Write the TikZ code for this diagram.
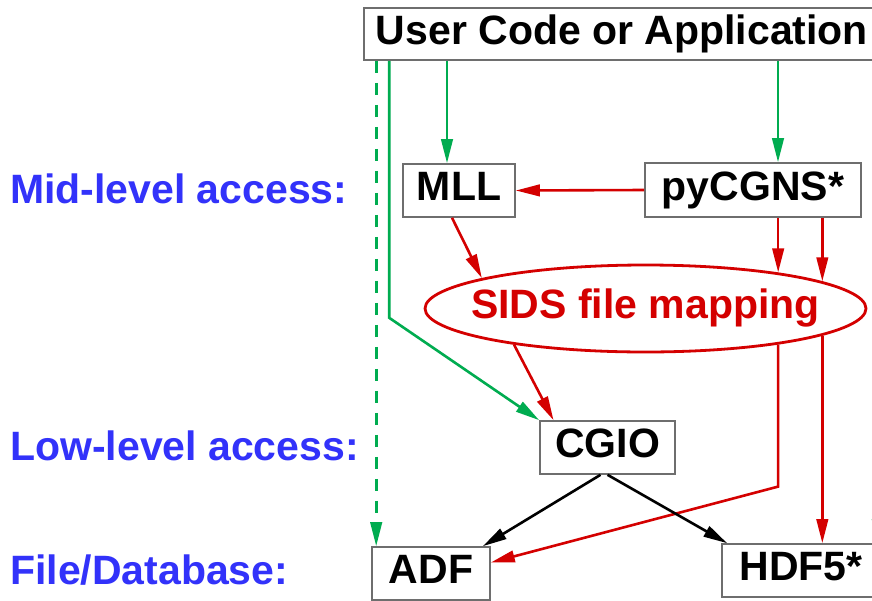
\documentclass[tikz,border=0pt]{standalone}
\usepackage{fontspec}
\setmainfont{Liberation Sans}
\usetikzlibrary{arrows.meta,shapes.geometric,calc}
\definecolor{cgreen}{RGB}{0,172,80}
\definecolor{cred}{RGB}{212,0,0}
\definecolor{cblue}{RGB}{50,50,250}
\definecolor{cgray}{RGB}{110,110,110}
\begin{document}
\begin{tikzpicture}[x=1pt,y=-1pt,
  big/.style={font=\fontsize{41}{49}\selectfont\bfseries},
  box/.style={big, draw=cgray, line width=1.6pt, fill=white, rectangle, inner sep=0pt,
    text height=29.5pt, text depth=8.6pt},
  lab/.style={big, text=cblue, anchor=base west, inner sep=0pt},
  tip/.style={-{Triangle[length=24pt,width=11.5pt]}},
  garrow/.style={tip, draw=cgreen, line width=2.6pt},
  rarrow/.style={tip, draw=cred, line width=2.6pt},
  barrow/.style={tip, draw=black, line width=2.6pt}
]
\useasboundingbox (0,0) rectangle (872,600);
\clip (0,0) rectangle (872,600);
\fill[white] (0,0) rectangle (872,600);

% nodes
\node[box, minimum width=516pt, minimum height=52pt] (user) at (622,34) {User Code or Application};
\node[box, minimum width=112pt, minimum height=53pt] (mll) at (459,190.5) {MLL};
\node[box, minimum width=216pt, minimum height=54pt] (py) at (753,190) {pyCGNS*};
\node[big, ellipse, draw=cred, line width=2.8pt, text=cred, fill=white, inner sep=0pt,
  text height=29.5pt, text depth=8.6pt,
  minimum width=441pt, minimum height=87pt] (sids) at (645.5,308.5) {\makebox[0pt]{SIDS file mapping}};
\node[box, minimum width=135pt, minimum height=53pt] (cgio) at (607.5,447.5) {CGIO};
\node[box, minimum width=118pt, minimum height=53pt] (adf) at (431,573.5) {ADF};
\node[box, minimum width=158pt, minimum height=53pt] (hdf) at (801,570.5) {HDF5*};

% points on the ellipse border
\coordinate (eA) at ($(sids.center)+({222*cos(137.5)},{-45*sin(137.5)})$);
\coordinate (eB) at ($(sids.center)+({222*cos(53.3)},{-45*sin(53.3)})$);
\coordinate (eC) at ($(sids.center)+({222*cos(37.2)},{-45*sin(37.2)})$);
\coordinate (eD) at ($(sids.center)+({222*cos(233.7)},{-45*sin(233.7)})$);
\coordinate (eE) at ($(sids.center)+({222*cos(-53.3)},{-45*sin(-53.3)})$);
\coordinate (eF) at ($(sids.center)+({222*cos(-37.2)},{-45*sin(-37.2)})$);

% labels
\node[lab] (l1) at (10,203) {Mid-level access:};
\node[lab] (l2) at (10,460) {Low-level access:};
\node[lab] (l3) at (10,584) {File/Database:};

% green connectors
\draw[garrow, dash pattern=on 12pt off 10pt]
  ([xshift=13]user.south west) -- ([xshift=5]adf.north west);
\draw[garrow] ([xshift=26]user.south west) -- ++(0,257) -- (cgio.north west);
\draw[garrow] ([xshift=-12]mll.north |- user.south) -- ([xshift=-12]mll.north);
\draw[garrow] ([xshift=25]py.north |- user.south) -- ([xshift=25]py.north);
\draw[garrow] ([xshift=-3]hdf.north east |- user.south) -- ([xshift=-3]hdf.north east);

% red connectors
\draw[rarrow] (py.west) -- (mll.east);
\draw[rarrow] ([xshift=-7]mll.south) -- (eA);
\draw[rarrow] (py.south -| eB) -- (eB);
\draw[rarrow] (py.south -| eC) -- (eC);
\draw[rarrow] (eD) -- ([xshift=-54]cgio.north);
\draw[rarrow] (eE) -- ++(0,142) -- ([yshift=11]adf.east);
\draw[rarrow] (eF) -- (hdf.north -| eF);

% black connectors
\draw[barrow] ([xshift=-7]cgio.south) -- ([xshift=-8]adf.north east);
\draw[barrow] (cgio.south) -- ([xshift=6]hdf.north west);
\end{tikzpicture}
\end{document}
